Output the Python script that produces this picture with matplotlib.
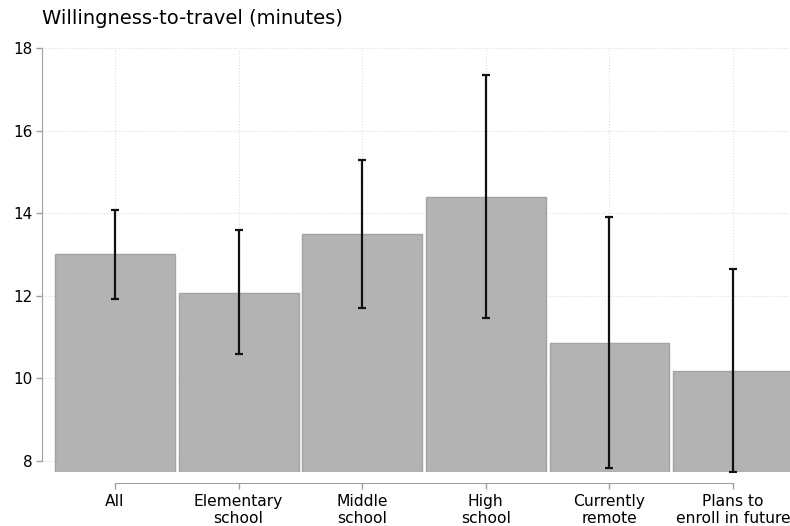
import numpy as np
import matplotlib
matplotlib.use('Agg')
import matplotlib.pyplot as plt

# data
groups = ['All', 'Elementary\nschool', 'Middle\nschool', 'High\nschool',
          'Currently\nremote', 'Plans to\nenroll in future']
means = [13.0, 12.07, 13.5, 14.4, 10.85, 10.18]
ci_low = [11.93, 10.59, 11.70, 11.47, 7.82, 7.74]
ci_high = [14.08, 13.58, 15.29, 17.35, 13.91, 12.64]
yticks = [8, 10, 12, 14, 16, 18]

ybase = 7.73
x = np.arange(len(groups))

fig = plt.figure(figsize=(7.9, 5.26), dpi=100)
ax = fig.add_axes([42/790, 1 - 472/526, 1 - 42/790, (472 - 48)/526])

# bars start at the bottom of the plot region
heights = [m - ybase for m in means]
ax.bar(x, heights, bottom=ybase, width=0.97, color='#b3b3b3',
       edgecolor='#a3a3a3', linewidth=1, zorder=2)

# confidence intervals
yerr = [np.array(means) - np.array(ci_low), np.array(ci_high) - np.array(means)]
ax.errorbar(x, means, yerr=yerr, fmt='none', ecolor='#111111',
            elinewidth=1.6, capsize=3, capthick=1.6, zorder=3)

ax.set_xlim(-0.59, 5.46)
ax.set_ylim(ybase, 18)
ax.set_yticks(yticks)
ax.set_xticks(x)
ax.tick_params(axis='y', labelsize=11, color='#a0a0a0', length=4.5, width=1, pad=2)
ax.tick_params(axis='x', labelsize=11.2, color='#a0a0a0', length=4.5, width=1, pad=3)
ax.set_xticklabels(groups)
for lab in ax.get_xticklabels():
    lab.set_linespacing(0.95)

# dotted grid
ax.grid(True, linestyle=':', color='#dcdcdc', linewidth=0.8, zorder=0)
ax.set_axisbelow(True)

for s in ['top', 'right']:
    ax.spines[s].set_visible(False)
ax.spines['left'].set_bounds(8, 18)
ax.spines['left'].set_color('#a0a0a0')
ax.spines['bottom'].set_position(('outward', 8))
ax.spines['bottom'].set_bounds(0, 5)
ax.spines['bottom'].set_color('#a0a0a0')

fig.text(42/790, 1 - 18/526, 'Willingness-to-travel (minutes)',
         fontsize=14, ha='left', va='center')

plt.savefig('out.png', dpi=100)
plt.close()
